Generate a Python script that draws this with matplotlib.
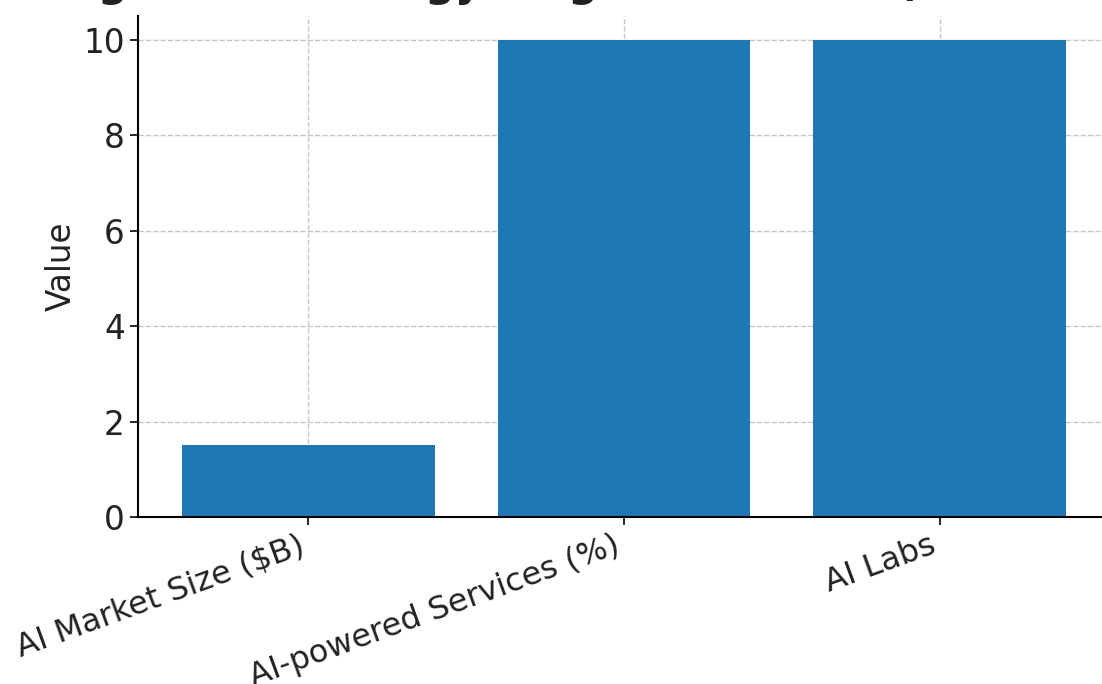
import matplotlib
matplotlib.use("Agg")
import matplotlib.pyplot as plt

title = "Digital Technology Targets for 2030 (Vision 2030)"
categories = ["AI Market Size ($B)", "AI-powered Services (%)", "AI Labs"]
values = [1.5, 10, 10]
yticks = [0, 2, 4, 6, 8, 10]

plt.rcParams['font.family'] = ['DejaVu Sans']
fig = plt.figure(figsize=(11.02, 6.84), dpi=100)
ax = fig.add_axes([138/1102, 167/684, 972/1102, 501/684])

ax.bar(categories, values, color="#1f77b4", width=0.8, zorder=2)
ax.set_ylim(0, 10.5)
ax.set_yticks(yticks)
ax.set_ylabel("Value", fontsize=23.5, color='#222222')
ax.tick_params(axis='y', labelsize=23.5, length=6, width=1.2, labelcolor='#222222')
ax.tick_params(axis='x', labelsize=23, length=6, width=1.2, labelcolor='#222222')
plt.setp(ax.get_xticklabels(), rotation=20, ha='right', rotation_mode='default')
ax.grid(True, linestyle='--', color='#b0b0b0', alpha=0.7, linewidth=1, zorder=0)
ax.set_axisbelow(True)
for s in ['top', 'right']:
    ax.spines[s].set_visible(False)
for s in ['left', 'bottom']:
    ax.spines[s].set_linewidth(1.5)

fig.text(629/1102, 1 + 4/684, title, ha='center', va='baseline',
         fontsize=30, fontweight='bold', color='#222222')

fig.savefig("out.png", dpi=100)
